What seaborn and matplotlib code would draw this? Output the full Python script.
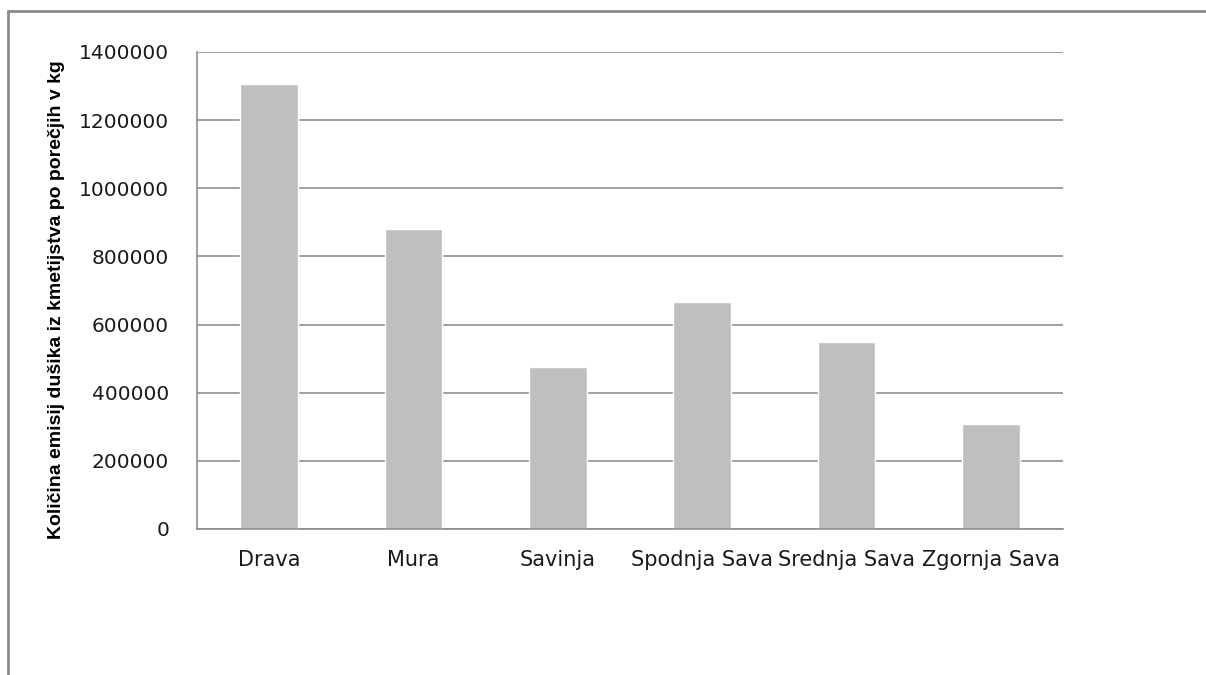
import matplotlib
matplotlib.use("Agg")
import matplotlib.pyplot as plt
import matplotlib.lines as mlines
from matplotlib import font_manager
import pandas as pd
import seaborn as sns

# river basins and nitrogen emissions from agriculture (kg)
basins = ["Drava", "Mura", "Savinja", "Spodnja Sava", "Srednja Sava", "Zgornja Sava"]
emissions = [1306000, 879000, 475000, 667000, 548000, 307000]
y_ticks = [0, 200000, 400000, 600000, 800000, 1000000, 1200000, 1400000]

df = pd.DataFrame({"basin": basins, "emissions": emissions})

sns.set_style("white")
plt.rcParams["font.family"] = ["DejaVu Sans"]

fig = plt.figure(figsize=(12.06, 6.75), dpi=100)
ax = fig.add_axes([0.1633, 0.2163, 0.8814 - 0.1633, 0.9230 - 0.2163])

sns.barplot(data=df, x="basin", y="emissions", color="#BFBFBF", width=0.4,
            saturation=1, ax=ax, zorder=2)

ax.set_ylim(0, 1400000)
ax.set_xlim(-0.5, len(basins) - 0.5)
ax.set_yticks(y_ticks)
ax.set_yticklabels([str(v) for v in y_ticks], fontsize=14.5, color="#1a1a1a")
ax.yaxis.grid(True, color="#868686", linewidth=1.1, zorder=0)
ax.set_axisbelow(True)

# category ticks sit between the bars, like Excel
ax.set_xticks([i - 0.5 for i in range(len(basins) + 1)], minor=False)
ax.set_xticklabels([])
ax.set_xticks(range(len(basins)), minor=True)
ax.set_xticklabels(basins, minor=True, fontsize=15, color="#1a1a1a")
ax.tick_params(axis="x", which="major", length=6, color="#868686", width=1.1, direction="out")
ax.tick_params(axis="x", which="minor", length=0, pad=15)
ax.tick_params(axis="y", length=7, color="#868686", width=1.1, direction="out", pad=13)

for side in ["top", "right"]:
    ax.spines[side].set_visible(False)
for side in ["left", "bottom"]:
    ax.spines[side].set_color("#868686")
    ax.spines[side].set_linewidth(1.1)

# narrow bold font for the axis title if one is around
names = {f.name for f in font_manager.fontManager.ttflist}
if "Liberation Sans Narrow" in names:
    lab_family, lab_size = ["Liberation Sans Narrow", "DejaVu Sans"], 16.5
else:
    lab_family, lab_size = ["Liberation Sans", "DejaVu Sans"], 14

ax.set_xlabel("")
ax.set_ylabel("Količina emisij dušika iz kmetijstva po porečjih v kg", fontsize=lab_size,
              fontweight="bold", family=lab_family, color="black")
ax.yaxis.set_label_coords(-0.152, 0.48)

# frame edges of the screenshot
fig.add_artist(mlines.Line2D([8 / 1206, 1], [1 - 11 / 675, 1 - 11 / 675],
                             transform=fig.transFigure, color="#8a8a8a", linewidth=2))
fig.add_artist(mlines.Line2D([8 / 1206, 8 / 1206], [0, 1 - 11 / 675],
                             transform=fig.transFigure, color="#8a8a8a", linewidth=2))

fig.savefig("out.png", dpi=100)
